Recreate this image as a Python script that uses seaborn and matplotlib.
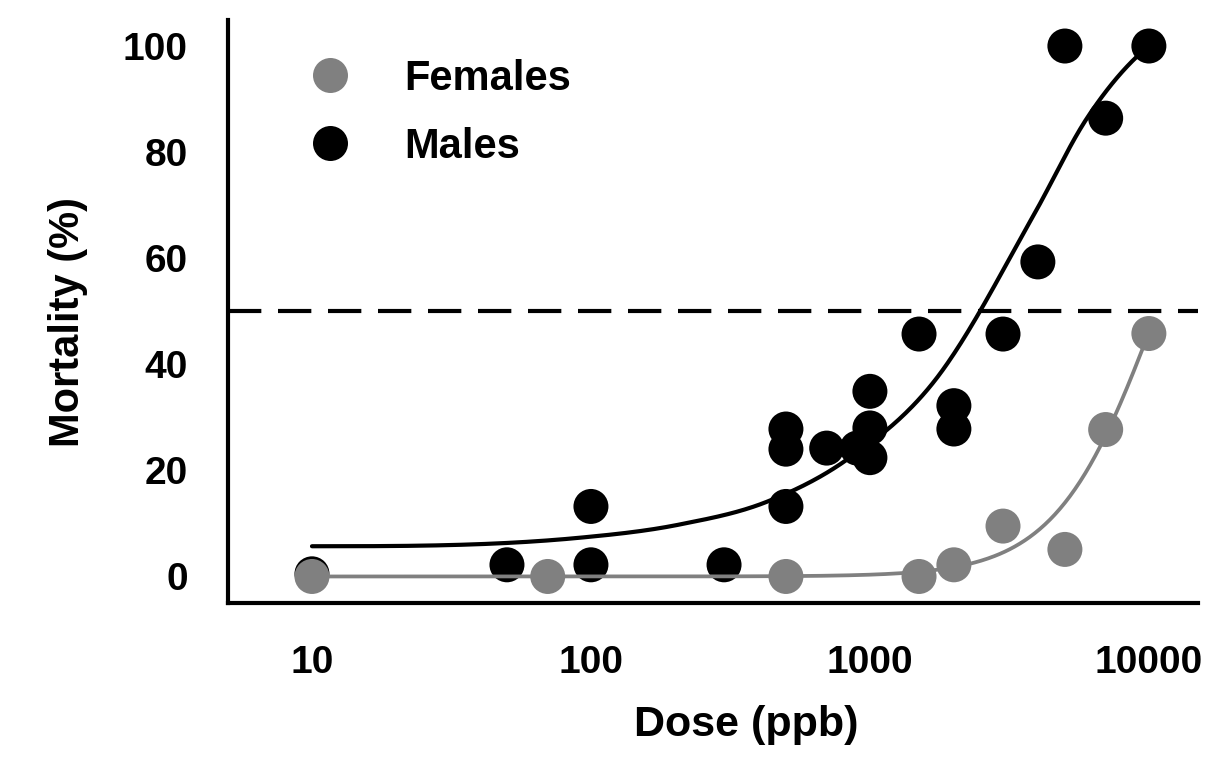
import numpy as np
import pandas as pd
import matplotlib
matplotlib.use("Agg")
import matplotlib.pyplot as plt
import seaborn as sns
from matplotlib.lines import Line2D

# ---------------- data ----------------
male_dose = [10, 50, 100, 100, 300, 500, 500, 500, 700, 900, 1000, 1000, 1000,
             1500, 2000, 2000, 3000, 4000, 5000, 7000, 10000]
male_pct = [0.5, 2.2, 13.2, 2.2, 2.2, 27.8, 24.0, 13.2, 24.2, 24.2, 34.9, 28.0, 22.4,
            45.7, 32.2, 27.8, 45.7, 59.3, 100.0, 86.4, 100.0]

female_dose = [10, 70, 500, 1500, 2000, 3000, 5000, 7000, 10000]
female_pct = [0.0, 0.0, 0.0, 0.0, 2.2, 9.5, 5.1, 27.7, 45.8]

# fitted curve for males at a few doses
male_fit_dose = [10, 91, 208, 428, 800, 1683, 3880, 6000, 10000]
male_fit_pct = [5.7, 7.3, 9.8, 14.1, 21.5, 36.5, 68.3, 86.4, 100.0]

# fitted curve for females: Hill model parameters
female_ec50 = 10690.0
female_hill = 2.4

threshold = 50
x_ticks = [10, 100, 1000, 10000]
x_tick_labels = ["10", "100", "1000", "10000"]
y_ticks = [0, 20, 40, 60, 80, 100]
series_order = ["Females", "Males"]


def smooth_curve(xk, yk, xq):
    """Smooth monotone cubic Hermite curve through the read fit points."""
    xk = np.asarray(xk, float)
    yk = np.asarray(yk, float)
    h = np.diff(xk)
    d = np.diff(yk) / h
    n = len(xk)
    m = np.zeros(n)
    for k in range(1, n - 1):
        if d[k - 1] * d[k] > 0:
            m[k] = (d[k - 1] * h[k] + d[k] * h[k - 1]) / (h[k - 1] + h[k])
            m[k] = min(m[k], 3 * d[k - 1], 3 * d[k])
    def end(h0, h1, d0, d1):
        v = ((2 * h0 + h1) * d0 - h0 * d1) / (h0 + h1)
        if np.sign(v) != np.sign(d0):
            v = 0.0
        elif abs(v) > abs(3 * d0):
            v = 3 * d0
        return v
    m[0] = end(h[0], h[1], d[0], d[1])
    m[-1] = end(h[-1], h[-2], d[-1], d[-2])
    idx = np.clip(np.searchsorted(xk, xq) - 1, 0, n - 2)
    t = (xq - xk[idx]) / h[idx]
    h00 = 2 * t**3 - 3 * t**2 + 1
    h10 = t**3 - 2 * t**2 + t
    h01 = -2 * t**3 + 3 * t**2
    h11 = t**3 - t**2
    return (h00 * yk[idx] + h10 * h[idx] * m[idx]
            + h01 * yk[idx + 1] + h11 * h[idx] * m[idx + 1])


# ---------------- build tables ----------------
points = pd.DataFrame({
    "dose": male_dose + female_dose,
    "pct": male_pct + female_pct,
    "sex": ["Males"] * len(male_dose) + ["Females"] * len(female_dose),
})

grid = np.logspace(1, 4, 500)
male_curve = pd.DataFrame({"dose": grid,
                           "pct": smooth_curve(np.log10(male_fit_dose), male_fit_pct,
                                               np.log10(grid))})
female_curve = pd.DataFrame({"dose": grid,
                             "pct": 100.0 / (1.0 + (female_ec50 / grid) ** female_hill)})

GREY = "#808080"
BLACK = "#000000"
palette = {"Females": GREY, "Males": BLACK}

# ---------------- plot ----------------
sns.set_theme(style="white")
plt.rcParams["font.family"] = ["Liberation Sans", "DejaVu Sans"]
plt.rcParams["font.weight"] = "bold"

fig = plt.figure(figsize=(12.06, 7.65), dpi=100)
ax = fig.add_axes([228 / 1206, 1 - 603 / 765, (1198 - 228) / 1206, (603 - 19.5) / 765])

sns.scatterplot(data=points, x="dose", y="pct", hue="sex", palette=palette,
                s=635, linewidth=0, edgecolor="none", legend=False, ax=ax, zorder=1)
sns.lineplot(data=male_curve, x="dose", y="pct", color=BLACK, lw=3.0,
             estimator=None, sort=False, ax=ax, zorder=2)
sns.lineplot(data=female_curve, x="dose", y="pct", color=GREY, lw=2.7,
             estimator=None, sort=False, ax=ax, zorder=2)
ax.axhline(threshold, color=BLACK, lw=3.0, linestyle=(0, (8, 4)), zorder=2)

ax.set_xscale("log")
ax.set_xlim(5, 15000)
ax.set_ylim(-5, 105)
ax.set_xticks(x_ticks)
ax.set_xticklabels(x_tick_labels)
ax.minorticks_off()
ax.set_yticks(y_ticks)
ax.set_yticklabels([str(v) for v in y_ticks])

for side in ["top", "right"]:
    ax.spines[side].set_visible(False)
for side in ["left", "bottom"]:
    ax.spines[side].set_linewidth(3.0)
    ax.spines[side].set_color(BLACK)

ax.tick_params(axis="both", which="major", direction="out", length=14, width=3,
               color=BLACK, labelsize=28, labelcolor=BLACK)
ax.tick_params(axis="y", pad=15)
ax.tick_params(axis="x", pad=16)
for lab in ax.get_xticklabels() + ax.get_yticklabels():
    lab.set_fontweight("bold")

ax.set_xlabel("Dose (ppb)", fontsize=31, fontweight="bold", color=BLACK)
ax.set_ylabel("Mortality (%)", fontsize=30, fontweight="bold", color=BLACK)
ax.xaxis.set_label_coords((746 - 228) / 970, (603 - 705) / 583.5)
ax.yaxis.set_label_coords((88 - 228) / 970, (603 - 322) / 583.5)

handles = [Line2D([], [], marker="o", linestyle="", markersize=25.2,
                  markerfacecolor=palette[k], markeredgewidth=0) for k in series_order]
leg = ax.legend(handles, series_order, loc="upper left",
                bbox_to_anchor=(288 / 1206, 1 - 59 / 765), bbox_transform=fig.transFigure,
                frameon=False, fontsize=30, borderpad=0, borderaxespad=0,
                handlelength=2.0, handletextpad=0.8, labelspacing=0.66)
for t in leg.get_texts():
    t.set_fontweight("bold")
    t.set_color(BLACK)

fig.savefig("out.png", dpi=100)
